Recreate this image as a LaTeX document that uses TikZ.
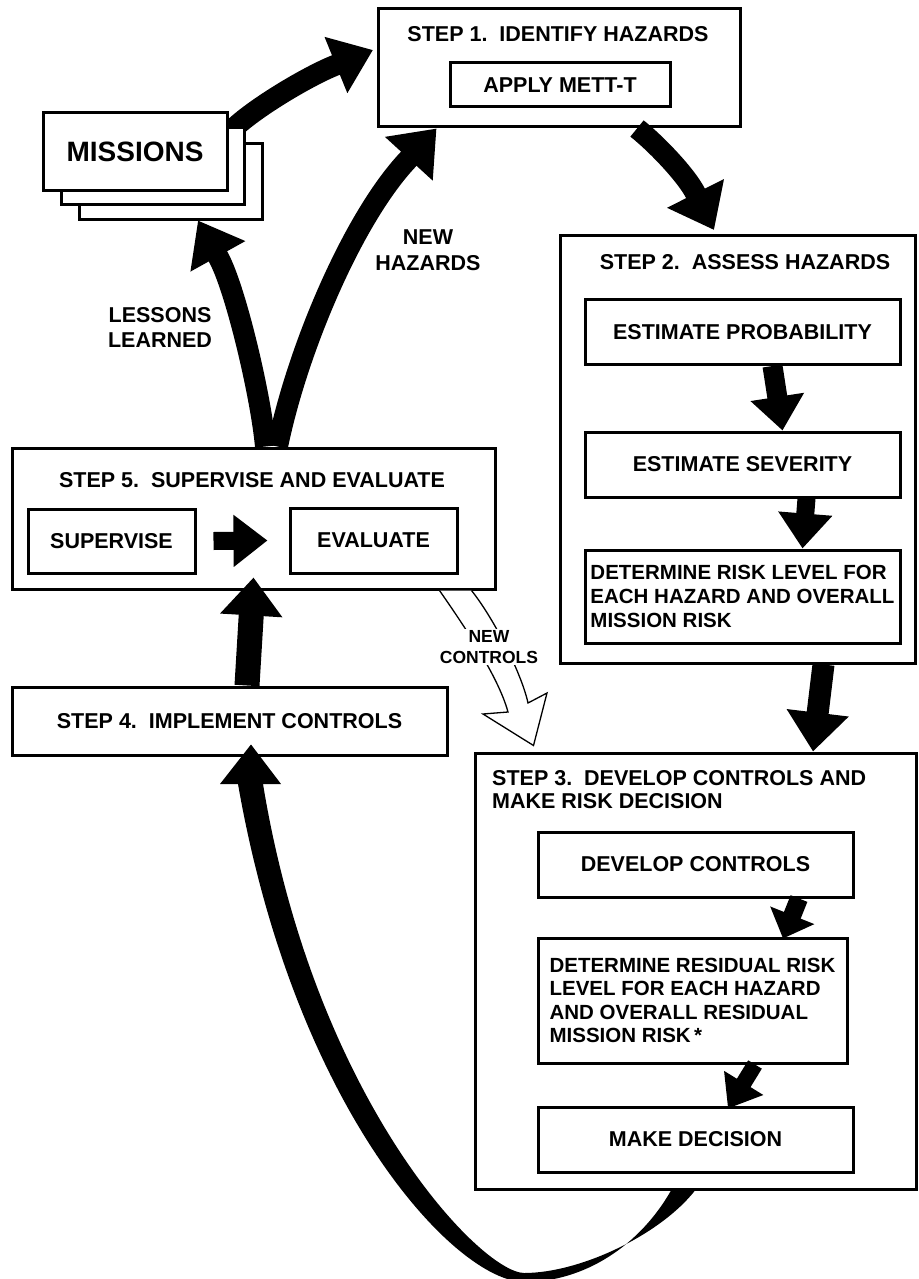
\documentclass[tikz,border=0pt]{standalone}
\usepackage{fontspec}
\setmainfont{Liberation Sans}
\usetikzlibrary{arrows.meta,backgrounds}

\newcommand{\boxfont}{\bfseries\fontsize{21.5}{23.5}\selectfont}
\newcommand{\listfont}{\bfseries\fontsize{20.5}{23.6}\selectfont}

\tikzset{
  stepbox/.style={draw, line width=3pt, fill=white, inner sep=0pt},
  subbox/.style={draw, line width=3pt, fill=white, inner sep=0pt,
    minimum width=315pt, minimum height=65pt, font=\boxfont},
  steptext/.style={inner sep=0pt, font=\boxfont, align=center},
  fat/.style n args={3}{line width=#1, -{Triangle[length=#2,width=#3]}},
}

\begin{document}
\begin{tikzpicture}[x=1pt,y=-1pt]
\useasboundingbox (0,0) rectangle (918,1279);

% missions stack
\node[stepbox, minimum width=183pt, minimum height=76pt] (missions3) at (170.5,181) {};
\node[stepbox, minimum width=183pt, minimum height=76pt] (missions2) at (152.5,166) {};
\node[stepbox, minimum width=184pt, minimum height=77pt,
  font=\bfseries\fontsize{28}{30}\selectfont] (missions) at (135,151.5) {MISSIONS};

% step 1
\node[stepbox, minimum width=362pt, minimum height=118pt] (step1) at (559,68) {};
\node[steptext] (title1) at (558,34) {STEP 1.\ \ IDENTIFY HAZARDS};
\node[subbox, minimum width=220pt, minimum height=44pt] (mett) at (560,85) {APPLY METT-T};

% step 2
\node[stepbox, minimum width=355pt, minimum height=428pt] (step2) at (737.5,449) {};
\node[steptext] (title2) at (745,262) {STEP 2.\ \ ASSESS HAZARDS};
\node[subbox] (prob) at (742.5,332) {ESTIMATE PROBABILITY};
\node[subbox] (sev) at (742.5,464.5) {ESTIMATE SEVERITY};
\node[subbox, minimum height=93pt, font=\listfont, align=left] (risk) at (742.5,596.5)
  {DETERMINE RISK LEVEL FOR\\EACH HAZARD AND OVERALL\\MISSION RISK};

% step 3
\node[stepbox, minimum width=441pt, minimum height=436pt] (step3) at (695.5,971) {};
\node[steptext, align=left, anchor=west] (title3) at (492,789.5)
  {STEP 3.\ \ DEVELOP CONTROLS AND\\MAKE RISK DECISION};
\node[subbox] (dev) at (695.5,864.5) {DEVELOP CONTROLS};
\node[subbox, minimum width=309pt, minimum height=125pt, font=\listfont, align=left]
  (residual) at (692.5,1000.5)
  {DETERMINE RESIDUAL RISK\\LEVEL FOR EACH HAZARD\\AND OVERALL RESIDUAL\\MISSION RISK\,*};
\node[subbox] (make) at (695.5,1139.5) {MAKE DECISION};

% step 4
\node[stepbox, minimum width=435pt, minimum height=68pt, font=\boxfont] (step4) at (229.5,721)
  {STEP 4.\ \ IMPLEMENT CONTROLS};

% step 5
\node[stepbox, minimum width=483pt, minimum height=141pt] (step5) at (253.5,518.5) {};
\node[steptext] (title5) at (252,480) {STEP 5.\ \ SUPERVISE AND EVALUATE};
\node[subbox, minimum width=167pt, minimum height=64pt] (supervise) at (111.5,541) {SUPERVISE};
\node[subbox, minimum width=167pt, minimum height=65pt] (evaluate) at (373.5,540.5) {EVALUATE};

% labels
\node[steptext, font=\bfseries\fontsize{21.5}{25}\selectfont] (lessons) at (160,327) {LESSONS\\LEARNED};
\node[steptext, font=\bfseries\fontsize{21.5}{26}\selectfont] (hazards) at (428,250) {NEW\\HAZARDS};

% arrows
\begin{pgfonlayer}{background}
\draw[fat={21pt}{40pt}{58pt}] ([xshift=-13.5pt,yshift=-3.5pt]missions2.north east)
  .. controls (253,109) and (308,76) .. (336,65) -- ([xshift=-3.5pt,yshift=18pt]step1.west);
\end{pgfonlayer}
\draw[fat={21pt}{41pt}{61pt}] ([xshift=78pt]step1.south)
  .. controls (656.5,144) and (686.5,175.5) .. (695.5,193.4) -- ([xshift=155.5pt,yshift=3.5pt]step2.north west);
\draw[fat={20pt}{34pt}{52pt}] ([xshift=30pt]prob.south) -- ([xshift=40pt]sev.north);
\draw[fat={18pt}{35pt}{52pt}] ([xshift=64pt]sev.south) -- ([xshift=60pt]risk.north);
\draw[fat={22pt}{39pt}{60pt}] ([xshift=86pt]step2.south) -- ([xshift=117.5pt]step3.north);
\draw[fat={18pt}{25pt}{46pt}] ([xshift=103.5pt]dev.south) -- ([xshift=90.5pt,yshift=-2pt]residual.north);
\draw[fat={16pt}{30pt}{44pt}] ([xshift=62.5pt]residual.south) -- ([xshift=32.5pt,yshift=-3pt]make.north);
% long return arrow, thinner at the bottom
\fill ([xshift=-24.5pt]step3.south) .. controls (640,1245) and (585,1282) .. (524,1282)
  .. controls (455,1281) and (295,1110) .. (238,784) -- (220,784)
  -- ([xshift=21.5pt,yshift=12pt]step4.south) -- (281,784) -- (263,784)
  .. controls (315,1100) and (480,1272) .. (524,1273)
  .. controls (580,1273) and (660,1235) .. ([xshift=-0.5pt]step3.south) -- cycle;
\draw[fat={25pt}{38pt}{60pt}] ([xshift=17.5pt]step4.north) -- ([yshift=13pt]step5.south);
\draw[fat={18pt}{34pt}{50pt}] ([xshift=17pt]supervise.east) -- ([xshift=-21pt]evaluate.west);
\draw[fat={21pt}{41pt}{60pt}] ([xshift=12pt]step5.north)
  .. controls (261,396) and (235.3,287.2) .. (218.1,256.7) -- ([xshift=27.5pt]missions3.south);
\draw[fat={21pt}{41pt}{62pt}] ([xshift=24pt]step5.north)
  .. controls (297.5,348.5) and (354,215.5) .. (409.5,158) -- ([xshift=60pt]step1.south west);

% hollow arrow
\filldraw[fill=white, line width=1.3pt] ([xshift=-57pt]step5.south east)
  .. controls (460,620) and (498,675) .. (508,712) -- (483,714)
  -- ([xshift=60pt,yshift=6pt]step3.north west) -- (547,693) -- (528,703)
  .. controls (522,675) and (495,620) .. ([xshift=-25pt]step5.south east);
\node[steptext, fill=white, inner sep=1pt, font=\bfseries\fontsize{17.5}{21}\selectfont]
  (newctrl) at (489,647) {NEW\\CONTROLS};
\end{tikzpicture}
\end{document}
